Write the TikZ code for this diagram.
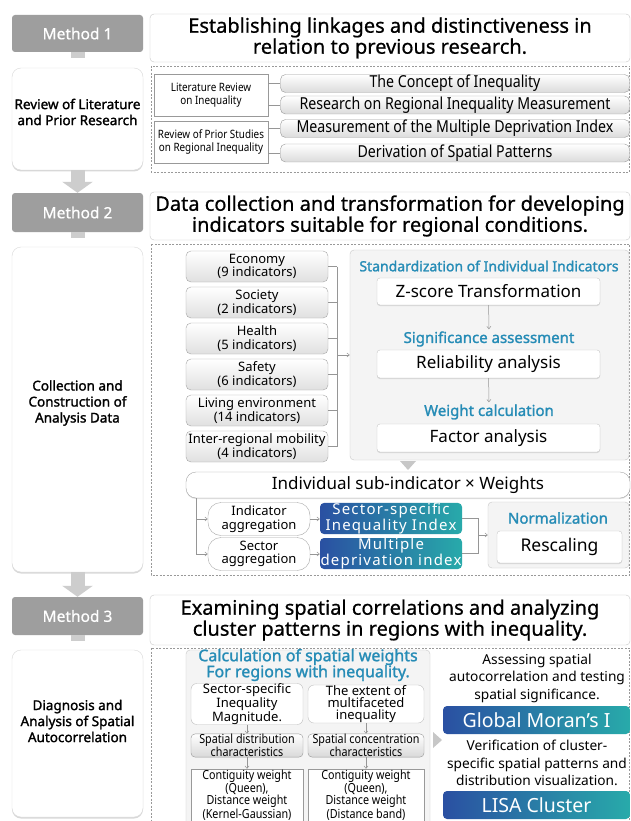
\documentclass[tikz,border=0pt]{standalone}
\usepackage{fontspec}
\setmainfont{Noto Sans}
\newfontfamily\narrowfont[FakeStretch=0.86]{Noto Sans}
\newfontfamily\medfont[FakeBold=0.7]{Noto Sans}
\newfontfamily\boldfont[FakeBold=1.5]{Noto Sans}
\newfontfamily\widefont[LetterSpace=8]{Noto Sans}
\usetikzlibrary{arrows.meta,shadows}

\definecolor{methodgray}{RGB}{158,158,158}
\definecolor{stemgray}{RGB}{205,205,205}
\definecolor{panelgray}{RGB}{244,244,244}
\definecolor{linegray}{RGB}{150,150,150}
\definecolor{tealtext}{RGB}{38,140,182}
\definecolor{deepblue}{RGB}{42,80,162}
\definecolor{teal}{RGB}{40,170,170}

\newcommand{\fs}[2]{\fontsize{#1}{#2}\selectfont}

\tikzset{
  sz/.style 2 args={minimum width=#1pt,minimum height=#2pt},
  methodbox/.style={fill=methodgray,rounded corners=3pt,text=white,font=\medfont\fs{15.5}{17}},
  card/.style={draw=black!15,fill=white,rounded corners=9pt,
    drop shadow={shadow xshift=0pt,shadow yshift=-1.5pt,opacity=.3}},
  cardtext/.style={align=center,font=\boldfont\fs{13.5}{16}},
  titlebox/.style={draw=black!22,fill=white,rounded corners=4pt,align=center,font=\medfont\fs{20}{21}},
  region/.style={draw=black!40,dash pattern=on 2pt off 1.5pt,line width=.5pt},
  panel/.style={draw=black!22,fill=panelgray,rounded corners=4pt},
  plainbox/.style={draw=black!40,fill=white,align=center,font=\narrowfont\fs{11.5}{12.5}},
  pill/.style={draw=black!40,top color=white,bottom color=black!14,rounded corners=5pt,align=center,font=\narrowfont\fs{16.5}{15}},
  sector/.style={draw=black!35,top color=white,bottom color=black!12,rounded corners=5pt,align=center,font=\fs{13}{13.5}},
  whitebox/.style={draw=black!22,fill=white,rounded corners=3pt,font=\fs{17}{19},
    drop shadow={shadow xshift=0pt,shadow yshift=-1pt,opacity=.25}},
  steplabel/.style={text=tealtext,font=\boldfont\fs{15}{16},inner sep=2pt},
  capsule/.style={draw=black!35,fill=white,rounded corners=13pt,align=center,font=\fs{13}{13.5}},
  grad/.style={left color=deepblue,right color=teal,rounded corners=4pt,text=white,align=center,font=\widefont\fs{15}{12.5}},
  softbox/.style={draw=black!25,fill=white,rounded corners=6pt,align=center,font=\fs{13}{12}},
  minibar/.style={draw=black!40,top color=white,bottom color=black!15,rounded corners=4pt,align=center,font=\narrowfont\fs{12.5}{10.5}},
  bodytext/.style={align=center,font=\fs{13.7}{17.5}},
  link/.style={draw=linegray,line width=.5pt},
  arrowlink/.style={link,-{Straight Barb[length=2.5pt,width=4pt]}},
  stem/.style={draw=stemgray,line width=14pt},
  bigarrow/.style={draw=stemgray,line width=14pt,-{Triangle[width=30pt,length=11pt]}},
  marker/.style={fill=black!22}
}

\begin{document}
\begin{tikzpicture}[x=1pt,y=-1pt,inner sep=0pt]
\useasboundingbox[fill=white] (0,0) rectangle (630,821);

% left column: methods and their steps
\node[methodbox,sz={131}{37}] (m1) at (77.5,33.5) {Method 1};
\node[card,sz={131}{102}] (c1) at (77.5,119) {};
\node[cardtext] (c1t) at (77.5,112) {Review of Literature\\and Prior Research};
\node[methodbox,sz={131}{39}] (m2) at (77.5,212.5) {Method 2};
\node[card,sz={131}{325}] (c2) at (77.5,409.5) {};
\node[cardtext] (c2t) at (77.5,403) {Collection and\\Construction of\\Analysis Data};
\node[methodbox,sz={131}{38}] (m3) at (77.5,616) {Method 3};
\node[card,sz={131}{167}] (c3) at (77.5,733.5) {};
\node[cardtext] (c3t) at (77.5,721) {Diagnosis and\\Analysis of Spatial\\Autocorrelation};
\foreach \m in {1,2,3}
  \draw[stem] (m\m.south) -- ++(0,6);
\draw[bigarrow] (c1.south) -- (m2.north);
\draw[bigarrow] (c2.south) -- (m3.north);

% method 1
\node[titlebox,sz={480}{48}] (t1) at (390,38) {Establishing linkages and distinctiveness in\\relation to previous research.};
\draw[region] (151,66) rectangle (629.5,172);
\node[plainbox,sz={114}{42}] (lit) at (211,95) {Literature Review\\on Inequality};
\node[plainbox,sz={114}{42}] (prior) at (211,142) {Review of Prior Studies\\on Regional Inequality};
\node[pill,sz={349}{18}] (p1) at (455,83.5) {The Concept of Inequality};
\node[pill,sz={349}{18}] (p2) at (455,105) {Research on Regional Inequality Measurement};
\node[pill,sz={349}{18}] (p3) at (455,128.5) {Measurement of the Multiple Deprivation Index};
\node[pill,sz={349}{18}] (p4) at (455,153) {Derivation of Spatial Patterns};
\draw[link] (lit.east|-p1) -- (p1.west);
\draw[link] (lit.east|-p2) -- (p2.west);
\draw[link] (prior.east|-p3) -- (p3.west);
\draw[link] (prior.east|-p4) -- (p4.west);

% method 2
\node[titlebox,sz={480}{48}] (t2) at (390,216) {Data collection and transformation for developing\\indicators suitable for regional conditions.};
\draw[region] (151,244) rectangle (629.5,575);
\foreach \name/\num [count=\k] in {Economy/9,Society/2,Health/5,Safety/6,Living environment/14,Inter-regional mobility/4}
  \node[sector,sz={142}{31}] (i\k) at (257,230.5+36*\k) {\name\\(\num\ indicators)};
\coordinate (bus) at ([xshift=9pt]i1.east);
\foreach \k in {1,...,6}
  \draw[link] (i\k.east) -- ++(9,0);
\draw[link] (bus) -- (bus|-i6.east);
\node[panel,sz={279}{210}] (std) at (489.5,355) {};
\draw[arrowlink] (bus|-std.west) -- (std.west);
\node[steplabel,font=\boldfont\fs{14}{16}] (l1) at (489,266) {Standardization of Individual Indicators};
\node[whitebox,sz={223}{27}] (zs) at (488.5,291.5) {Z-score Transformation};
\node[steplabel] (l2) at (489,339) {Significance assessment};
\node[whitebox,sz={223}{28}] (rel) at (488.5,364) {Reliability analysis};
\node[steplabel] (l3) at (489,412) {Weight calculation};
\node[whitebox,sz={223}{28}] (fac) at (488.5,438) {Factor analysis};
\draw[arrowlink] (zs) -- (l2);
\draw[arrowlink] (rel) -- (l3);
\fill[marker] (400,461) -- (416,461) -- (408,470) -- cycle;

\node[whitebox,rounded corners=10pt,draw=black!35,sz={444}{26}] (isw) at (408,485) {Individual sub-indicator × Weights};
\coordinate (split) at (196,498);
\node[capsule,sz={102}{33}] (ia) at (259,519) {Indicator\\aggregation};
\node[capsule,sz={102}{33}] (sa) at (259,554) {Sector\\aggregation};
\draw[arrowlink] (split) |- (ia.west);
\draw[arrowlink] (split) |- (sa.west);
\node[grad,sz={142}{31}] (ssi) at (391,518.5) {Sector-specific\\Inequality Index};
\node[grad,sz={142}{31}] (mdi) at (391,553.5) {Multiple\\deprivation index};
\draw[arrowlink] (ia.east) -- (ssi.west|-ia.east);
\draw[arrowlink] (sa.east) -- (mdi.west|-sa.east);
\node[panel,sz={141}{66}] (normp) at (558.5,535) {};
\node[steplabel] (l4) at (558,518) {Normalization};
\node[whitebox,sz={125}{32},font=\fs{17.5}{19}] (resc) at (559.5,547) {Rescaling};
\coordinate (join) at (478,535);
\draw[link] (ssi.east) -| (join);
\draw[link] (mdi.east) -| (join);
\draw[arrowlink] (join) -- (normp.west);

% method 3
\node[titlebox,sz={480}{50}] (t3) at (390,620) {Examining spatial correlations and analyzing\\cluster patterns in regions with inequality.};
\draw[region] (151,648) rectangle (629.5,822);
\node[panel,sz={244}{180}] (swp) at (308,740) {};
\node[steplabel,align=center,font=\boldfont\fs{16}{16}] (swt) at (308,665) {Calculation of spatial weights\\For regions with inequality.};
\node[softbox,sz={112}{38}] (swl) at (247,704) {Sector-specific\\Inequality\\Magnitude.};
\node[softbox,sz={116}{38}] (swr) at (366,704) {The extent of\\multifaceted\\inequality};
\node[minibar,sz={112}{21}] (sdl) at (247,745.5) {Spatial distribution\\characteristics};
\node[minibar,sz={116}{21}] (sdr) at (366,745.5) {Spatial concentration\\characteristics};
\node[plainbox,sz={112}{52},font=\narrowfont\fs{12.5}{11.5}] (cwl) at (247,795) {Contiguity weight\\(Queen),\\Distance weight\\(Kernel-Gaussian)};
\node[plainbox,sz={116}{52},font=\narrowfont\fs{12.5}{11.5}] (cwr) at (366,795) {Contiguity weight\\(Queen),\\Distance weight\\(Distance band)};
\draw[arrowlink] (swl) -- (sdl);
\draw[arrowlink] (sdl) -- (cwl);
\draw[arrowlink] (swr) -- (sdr);
\draw[arrowlink] (sdr) -- (cwr);
\fill[marker] (433,732) -- (433,748) -- (442,740) -- cycle;
\node[bodytext] (ast) at (537,678) {Assessing spatial\\autocorrelation and testing\\spatial significance.};
\node[grad,sz={187}{28},font=\fs{19.5}{20}] (gmi) at (536.5,720) {Global Moran’s I};
\node[bodytext] (ver) at (537,763) {Verification of cluster-\\specific spatial patterns and\\distribution visualization.};
\node[grad,sz={187}{28},font=\fs{19.5}{20}] (lisa) at (536.5,805) {LISA Cluster};
\end{tikzpicture}
\end{document}
